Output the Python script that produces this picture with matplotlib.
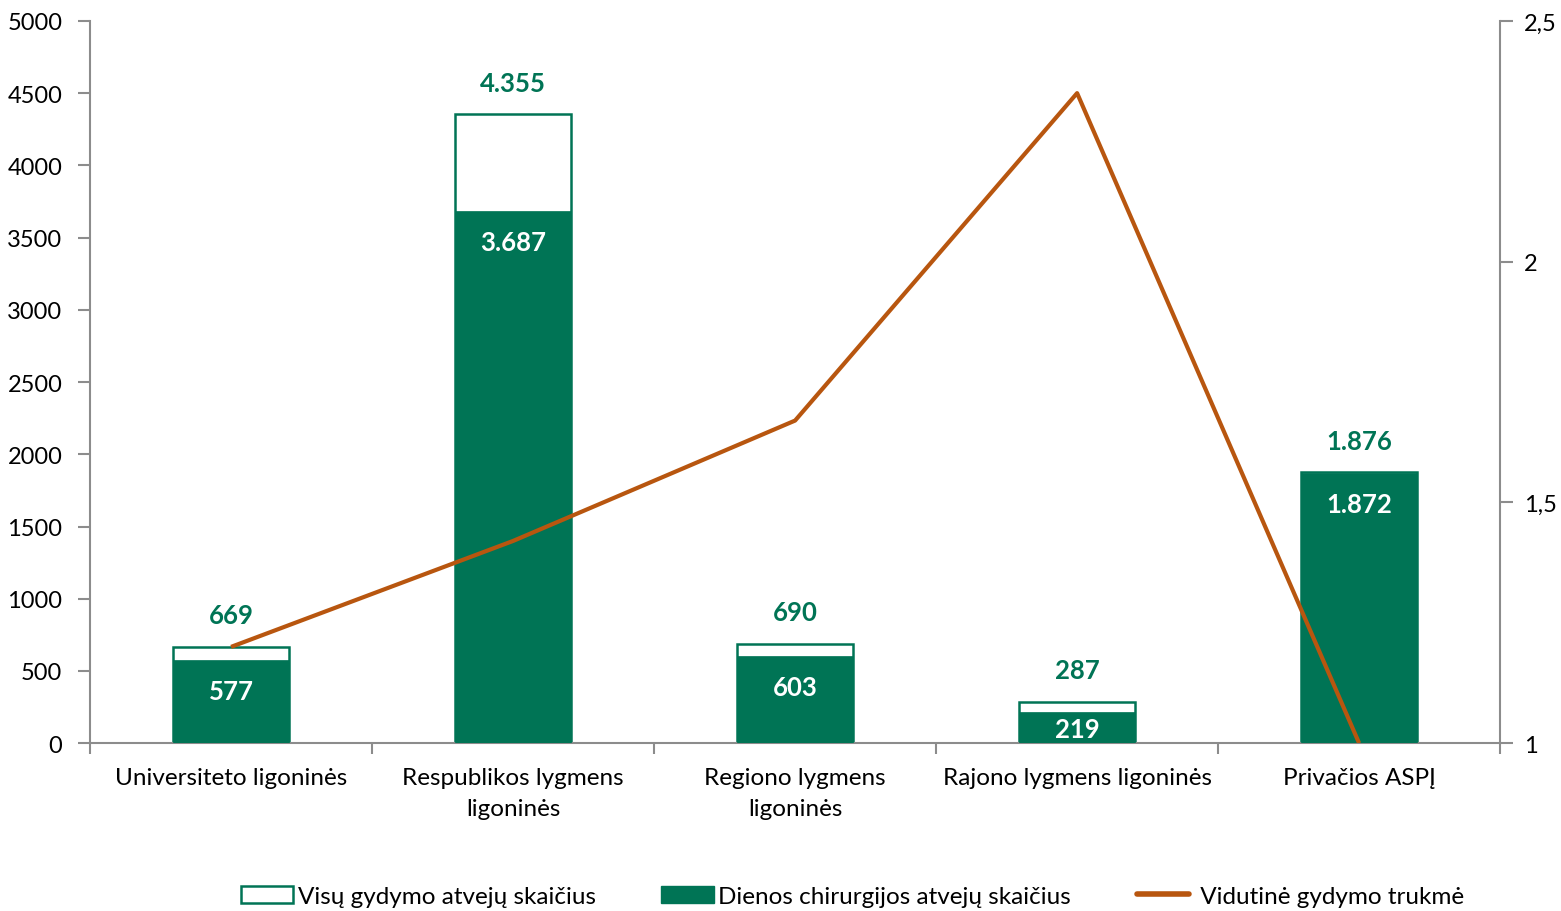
import matplotlib.pyplot as plt
from matplotlib.ticker import FixedLocator, FuncFormatter
from matplotlib.patches import Patch
from matplotlib.lines import Line2D
import numpy as np

plt.rcParams['font.family'] = ['Lato', 'DejaVu Sans']

# Data
categories = ["Universiteto ligoninės", "Respublikos lygmens\nligoninės",
              "Regiono lygmens\nligoninės", "Rajono lygmens ligoninės", "Privačios ASPĮ"]
total_cases = [669, 4355, 690, 287, 1876]
day_surgery = [577, 3687, 603, 219, 1872]
avg_duration = [1.20, 1.42, 1.67, 2.35, 1.00]

GREEN = '#007455'
ORANGE = '#B8560F'
GREY = '#8c8c8c'


def fmt_num(v):
    return f"{v:,}".replace(",", ".")


fig = plt.figure(figsize=(15.61, 9.12), dpi=100)
ax = fig.add_axes([0.0577, 0.184, 0.9033, 0.792])
x = np.arange(len(categories))
w = 0.41

ax.bar(x, total_cases, w, color='white', edgecolor=GREEN, linewidth=1.8, zorder=2)
ax.bar(x, day_surgery, w, color=GREEN, edgecolor=GREEN, linewidth=0.5, zorder=3)

px_per_unit = 0.792 * 912 / 5000
for xi, t, d in zip(x, total_cases, day_surgery):
    ax.annotate(fmt_num(t), (xi, t), xytext=(0, 22.5), textcoords='offset points',
                ha='center', va='center', color=GREEN, fontsize=18.5, fontweight='bold')
    # inside label: ~31px below bar top, but kept inside short bars
    off_px = min(31, d * px_per_unit - 14)
    ax.annotate(fmt_num(d), (xi, d), xytext=(0, -off_px * 0.72), textcoords='offset points',
                ha='center', va='center', color='white', fontsize=18.5, fontweight='bold',
                zorder=5, annotation_clip=False, clip_on=False)

ax.set_xlim(-0.5, len(categories) - 0.5)
ax.set_ylim(0, 5000)
ax.set_yticks(np.arange(0, 5001, 500))
ax.set_xticks(x)
ax.set_xticklabels(categories, fontsize=17.5, linespacing=1.6)
ax.xaxis.set_minor_locator(FixedLocator(np.arange(-0.5, len(categories), 1)))
ax.tick_params(axis='x', which='major', length=0, pad=17)
ax.tick_params(axis='x', which='minor', length=8, color=GREY, width=1.5, direction='out')
ax.tick_params(axis='y', length=9, color=GREY, width=1.5, labelsize=17, pad=11)

for s in ['top', 'right']:
    ax.spines[s].set_visible(False)
for s in ['left', 'bottom']:
    ax.spines[s].set_color(GREY)
    ax.spines[s].set_linewidth(1.5)

ax2 = ax.twinx()
ax2.plot(x, avg_duration, color=ORANGE, linewidth=3.0, zorder=6, solid_capstyle='butt')
ax2.set_ylim(1, 2.5)
ax2.set_yticks([1, 1.5, 2, 2.5])
ax2.yaxis.set_major_formatter(FuncFormatter(lambda v, p: f"{v:g}".replace(".", ",")))
ax2.tick_params(axis='y', length=9, color=GREY, width=1.5, labelsize=17, pad=8)
for s in ['top', 'left', 'bottom']:
    ax2.spines[s].set_visible(False)
ax2.spines['right'].set_color(GREY)
ax2.spines['right'].set_linewidth(1.5)

handles = [Patch(facecolor='white', edgecolor=GREEN, linewidth=1.8),
           Patch(facecolor=GREEN, edgecolor=GREEN),
           Line2D([0], [0], color=ORANGE, linewidth=4, solid_capstyle='round')]
labels = ["Visų gydymo atvejų skaičius", "Dienos chirurgijos atvejų skaičius",
          " Vidutinė gydymo trukmė"]
fig.legend(handles, labels, loc='center', bbox_to_anchor=(0.546, 0.016), ncol=3,
           frameon=False, fontsize=17.5, handlelength=2.15, handletextpad=0.2,
           columnspacing=2.7)

fig.savefig('out.png', dpi=100)
